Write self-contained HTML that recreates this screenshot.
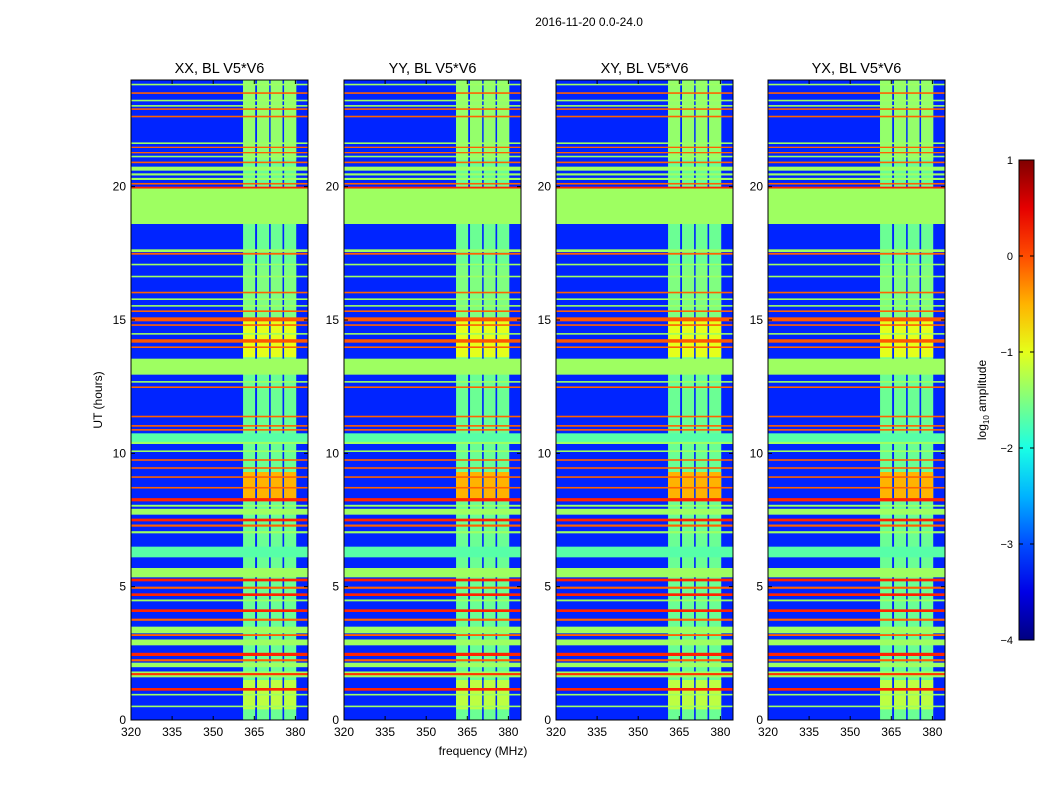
<!DOCTYPE html>
<html><head><meta charset="utf-8"><style>
body{margin:0;background:#fff;}
svg text{font-family:"Liberation Sans",sans-serif;}
</style></head><body>
<svg id="fig" width="1050" height="800" xmlns="http://www.w3.org/2000/svg">
<text x="589" y="26" font-size="12" text-anchor="middle">2016-11-20 0.0-24.0</text>
<text x="483" y="755" font-size="12" text-anchor="middle">frequency (MHz)</text>
<text transform="translate(102,400) rotate(-90)" font-size="12" text-anchor="middle">UT (hours)</text>
<defs><linearGradient id="jetg" x1="0" y1="1" x2="0" y2="0"></linearGradient></defs>
</svg>
<script>
const panelTitles=["XX, BL V5*V6","YY, BL V5*V6","XY, BL V5*V6","YX, BL V5*V6"];
const panelLefts=[131,344,556,768];
const xTicks=[320,335,350,365,380];
const yTicks=[0,5,10,15,20];
const cbTicks=[-4,-3,-2,-1,0,1];
const bgLevel=-3.2;
// RFI column bands [startMHz,endMHz,level]
const colStart=[360.9,366.0,371.0,375.9];
const colEnd=[365.3,370.4,375.3,380.3];
const colLevel=[-1.6,-1.6,-1.6,-1.6];
// column-only enhancements [startHr,endHr,level]
const colBoostStart=[8.2,13.6,0.4,15.0,21.0];
const colBoostEnd=[9.3,15.0,1.5,17.0,24.0];
const colBoostLevel=[-0.5,-1.0,-1.2,-1.5,-1.4];
// full-width horizontal bands [startHr,endHr,level]
const rowStart=[23.8,23.48,23.2,23.0,22.88,22.6,21.6,21.45,21.25,21.1,20.88,20.6,20.42,20.25,20.08,19.93,18.6,17.55,17.45,17.05,16.6,16.0,15.75,15.5,15.3,14.95,14.78,14.45,14.15,13.95,12.95,12.65,12.45,11.35,11.0,10.85,10.4,10.35,10.05,9.72,9.42,9.08,8.68,8.2,8.0,7.7,7.45,7.25,7.0,6.1,5.35,5.2,4.92,4.65,4.45,4.05,3.72,3.25,3.15,2.8,2.4,2.2,1.98,1.6,1.68,1.1,0.92,0.48];
const rowEnd=[23.86,23.54,23.26,23.06,22.94,22.66,21.66,21.5,21.3,21.16,20.94,20.75,20.5,20.33,20.14,20.0,19.93,17.65,17.52,17.11,16.66,16.06,15.81,15.56,15.36,15.1,14.84,14.51,14.28,14.01,13.55,12.71,12.51,11.41,11.06,10.91,10.75,10.43,10.11,9.78,9.48,9.14,8.74,8.32,8.07,7.92,7.55,7.33,7.08,6.5,5.7,5.3,5.0,4.75,4.52,4.15,3.8,3.5,3.22,3.02,2.52,2.28,2.15,1.82,1.76,1.2,0.98,0.54];
const rowLevel=[-1.35,-0.1,-1.35,-1.35,-0.1,-0.1,-1.35,-0.1,-0.1,-1.35,-0.1,-1.35,-1.35,-1.35,-0.1,0.2,-1.35,-1.35,-0.1,-1.35,-1.35,-0.1,-1.35,-1.35,-0.1,-0.05,-0.1,-1.35,-0.05,-0.1,-1.35,-1.35,-0.1,-0.1,-0.1,-0.1,-1.7,-1.35,-1.35,-0.1,-0.1,-0.1,-0.1,0.2,-1.35,-1.35,0.2,-0.1,-1.35,-1.7,-1.35,0.2,-0.1,0.2,-1.35,0.2,-0.1,-1.35,-0.1,-1.35,0.2,-0.1,-1.35,-1.35,0.1,0.2,-1.35,-1.35];

const svg=document.getElementById('fig');
const NS="http://www.w3.org/2000/svg";
const W=177,TOP=80,BOT=720,X0=320,X1=384.6,Y0=0,Y1=24;
function jet(v){const t=Math.max(0,Math.min(1,(v+4)/5));const c=x=>Math.round(255*Math.max(0,Math.min(1,1.5-Math.abs(4*t-x))));return `rgb(${c(3)},${c(2)},${c(1)})`;}
function mk(tag,attrs,parent){const e=document.createElementNS(NS,tag);for(const k in attrs)e.setAttribute(k,attrs[k]);(parent||svg).appendChild(e);return e;}
const yS=h=>BOT-(h-Y0)/(Y1-Y0)*(BOT-TOP);
const g=svg.querySelector('#jetg');
for(let i=0;i<=10;i++){mk('stop',{offset:i/10,'stop-color':jet(-4+i*0.5)},g);}
panelLefts.forEach((L,p)=>{
  const xS=f=>L+(f-X0)/(X1-X0)*W;
  const grp=mk('g',{});
  
  
  const bg=mk('rect',{x:L,y:TOP,width:W,height:BOT-TOP,fill:jet(bgLevel)},grp);
  
  
  colStart.forEach((s,i)=>{
    const r=mk('rect',{x:xS(s),y:TOP,width:xS(colEnd[i])-xS(s),height:BOT-TOP,fill:jet(colLevel[i])},grp);
    
    
    colBoostStart.forEach((b,j)=>{
      const q=mk('rect',{x:xS(s),y:yS(colBoostEnd[j]),width:xS(colEnd[i])-xS(s),height:yS(b)-yS(colBoostEnd[j]),fill:jet(colBoostLevel[j])},grp);
      
      
    });
  });
  rowStart.forEach((s,i)=>{
    const r=mk('rect',{x:L,y:yS(rowEnd[i]),width:W,height:Math.max(1.2,yS(s)-yS(rowEnd[i])),fill:jet(rowLevel[i])},grp);
    
    
  });
  const fr=mk('rect',{x:L,y:TOP,width:W,height:BOT-TOP,fill:'none',stroke:'#000','stroke-width':1},grp);
  
  
  const t=mk('text',{x:L+W/2,y:TOP-7,'font-size':14.5,'text-anchor':'middle'},grp);
  t.textContent=panelTitles[p];
  
  
  xTicks.forEach(v=>{
    const x=xS(v);
    mk('line',{x1:x,x2:x,y1:BOT,y2:BOT-4,stroke:'#000'},grp);
    mk('line',{x1:x,x2:x,y1:TOP,y2:TOP+4,stroke:'#000'},grp);
    const tx=mk('text',{x:x,y:BOT+16,'font-size':12,'text-anchor':'middle'},grp);
    tx.textContent=v;
    
    
  });
  yTicks.forEach(v=>{
    const y=yS(v);
    mk('line',{x1:L,x2:L+4,y1:y,y2:y,stroke:'#000'},grp);
    mk('line',{x1:L+W,x2:L+W-4,y1:y,y2:y,stroke:'#000'},grp);
    const ty=mk('text',{x:L-5,y:y+4,'font-size':12,'text-anchor':'end'},grp);
    ty.textContent=v;
    
    
  });
});
const CB={x:1019,w:15,top:160,bot:640};
const cb=mk('rect',{x:CB.x,y:CB.top,width:CB.w,height:CB.bot-CB.top,fill:'url(#jetg)',stroke:'#000'});


cbTicks.forEach(v=>{
  const y=CB.bot-(v+4)/5*(CB.bot-CB.top);
  mk('line',{x1:CB.x,x2:CB.x+4,y1:y,y2:y,stroke:'#000'});
  mk('line',{x1:CB.x+CB.w,x2:CB.x+CB.w-4,y1:y,y2:y,stroke:'#000'});
  const t=mk('text',{x:1013,y:y+4,'font-size':11,'text-anchor':'end'});
  t.textContent=v<0?'\u2212'+(-v):String(v);
  
  
});
const cl=mk('text',{transform:'translate(986,400) rotate(-90)','font-size':12,'text-anchor':'middle'});
cl.innerHTML='log<tspan font-size="8" dy="3">10</tspan><tspan dy="-3"> amplitude</tspan>';


</script>
</body></html>
